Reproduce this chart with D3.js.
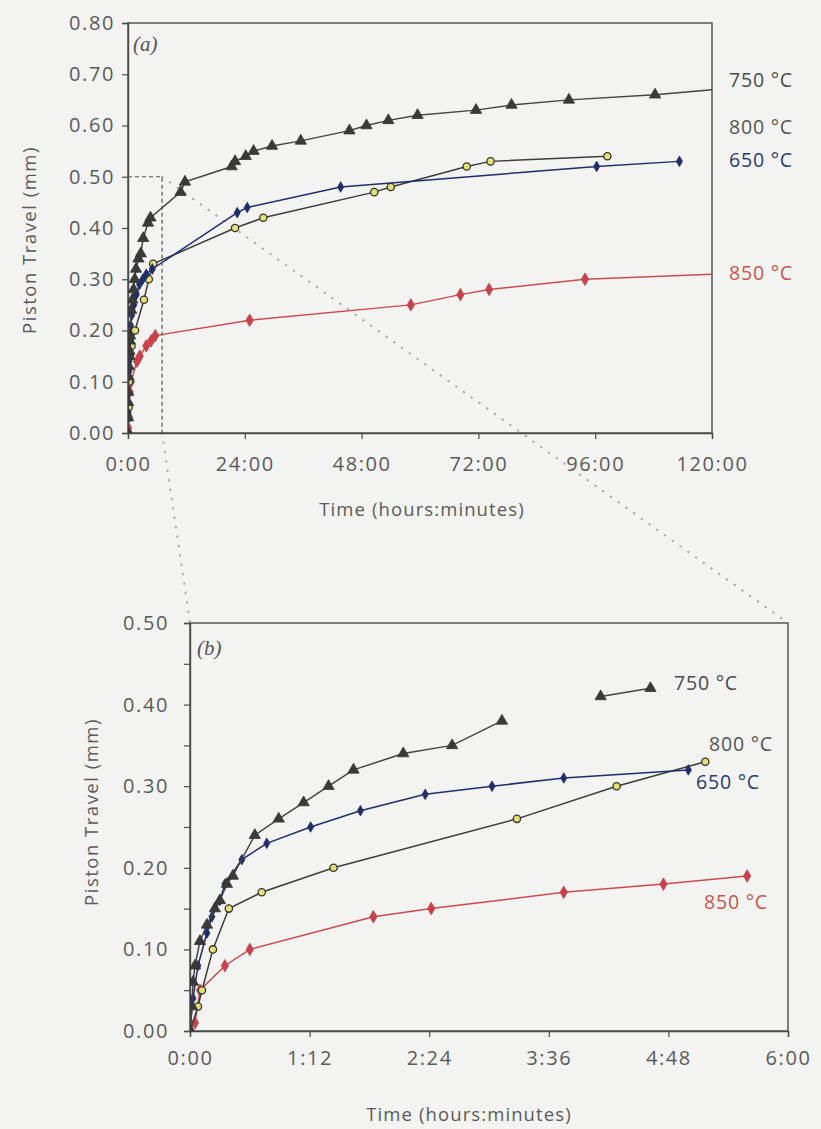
<!DOCTYPE html>
<html>
<head>
<meta charset="utf-8">
<script src="https://cdn.jsdelivr.net/npm/d3@7/dist/d3.min.js"></script>
<style>
  html, body { margin: 0; padding: 0; background: #f3f3f1; }
  svg { display: block; }
  text { font-family: "Open Sans", "Noto Sans", sans-serif; }
</style>
</head>
<body>
<svg id="chart" width="821" height="1129"></svg>
<script>
// Piston travel (mm) versus elapsed time (hours) for each test temperature.
const s650 = [[0,0],[0.03,0.04],[0.08,0.08],[0.17,0.12],[0.22,0.14],[0.3,0.16],[0.35,0.18],
  [0.52,0.21],[0.77,0.23],[1.21,0.25],[1.71,0.27],[2.36,0.29],[3.03,0.30],[3.75,0.31],[5.0,0.32],
  [22.45,0.43],[24.5,0.44],[43.7,0.48],[96.3,0.52],[113.3,0.53]];
const s750 = [[0,0],[0.02,0.03],[0.03,0.06],[0.05,0.08],[0.1,0.11],[0.17,0.13],[0.25,0.15],[0.3,0.16],
  [0.37,0.18],[0.43,0.19],[0.65,0.24],[0.89,0.26],[1.14,0.28],[1.39,0.30],[1.64,0.32],[2.14,0.34],
  [2.63,0.35],[3.13,0.38],[4.12,0.41],[4.62,0.42],[10.8,0.47],[11.7,0.49],[21.3,0.52],[22.0,0.53],
  [24.2,0.54],[25.8,0.55],[29.6,0.56],[35.5,0.57],[45.5,0.59],[49.0,0.60],[53.5,0.61],[59.5,0.62],
  [71.5,0.63],[78.8,0.64],[90.6,0.65],[108.3,0.66]];
const s800 = [[0,0],[0.08,0.03],[0.12,0.05],[0.23,0.10],[0.39,0.15],[0.72,0.17],[1.44,0.20],
  [3.28,0.26],[4.28,0.30],[5.17,0.33],[22.0,0.40],[27.8,0.42],[50.6,0.47],[54.0,0.48],
  [69.6,0.52],[74.5,0.53],[98.5,0.54]];
const s850 = [[0,0],[0.05,0.01],[0.1,0.05],[0.35,0.08],[0.6,0.10],[1.84,0.14],[2.42,0.15],
  [3.75,0.17],[4.75,0.18],[5.59,0.19],[25.0,0.22],[58.1,0.25],[68.3,0.27],[74.2,0.28],[93.9,0.30]];
// Curve continuations to the right-hand frame of the full-range panel (no marker).
const tail750 = [[120,0.67]];
const tail850 = [[120,0.31]];
// Panel (b) leaves the 750 °C curve open between these readings.
const gap750 = [3.13, 4.12];

const seriesNames = ["850 °C","800 °C","650 °C","750 °C"];
const ticksTimeA = [0,24,48,72,96,120];
const ticksTimeB = [0,1.2,2.4,3.6,4.8,6];
const ticksTravelA = [0,0.1,0.2,0.3,0.4,0.5,0.6,0.7,0.8];
const ticksTravelB = [0,0.1,0.2,0.3,0.4,0.5];
const minorTravelB = [0.05,0.15,0.25,0.35,0.45];
const zoomWindow = [7, 0.5];   // extent of panel (b) outlined inside panel (a)

const fmtTime = h => {
  const m = Math.round(h * 60);
  return Math.floor(m / 60) + ":" + String(m % 60).padStart(2, "0");
};

const style = {
  "650 °C": {data: s650, tail: [], line: "#1f2d6b", fill: "#1f2d6b", stroke: "#1f2d6b", sym: d3.symbolDiamond, size: 32, label: "#2b3a6c"},
  "750 °C": {data: s750, tail: tail750, line: "#444", fill: "#3a3a3a", stroke: "#333", sym: d3.symbolTriangle, size: 55, label: "#4a4a4a"},
  "800 °C": {data: s800, tail: [], line: "#3c3c3c", fill: "#e6df72", stroke: "#333", sym: d3.symbolCircle, size: 42, label: "#555"},
  "850 °C": {data: s850, tail: tail850, line: "#cc4a4e", fill: "#c8404a", stroke: "#c8404a", sym: d3.symbolDiamond, size: 45, label: "#c9534f"}
};

const svg = d3.select("#chart");
const axisColor = "#4a4a4a";
const textColor = "#5a5a5a";

function panel(opts) {
  const {x, y, xTicks, yTicks, yMinor, tag, tagPos, xTitle, yTitle, labels, tMax, breakAt, useTails, padX, padY} = opts;
  const g = svg.append("g");
  const [x0, x1] = x.range();
  const [y0, y1] = y.range();

  // frame
  g.append("rect").attr("x", x0).attr("y", y1).attr("width", x1 - x0).attr("height", y0 - y1)
    .attr("fill", "none").attr("stroke", axisColor).attr("stroke-width", 1.4);

  // axes
  const ax = g.append("g").attr("transform", `translate(0,${y0})`)
    .call(d3.axisBottom(x).tickValues(xTicks).tickFormat(fmtTime).tickSize(6).tickPadding(padX));
  const ay = g.append("g").attr("transform", `translate(${x0},0)`)
    .call(d3.axisLeft(y).tickValues(yTicks).tickFormat(d3.format(".2f")).tickSize(6).tickPadding(padY));
  if (yMinor) {
    g.append("g").attr("transform", `translate(${x0},0)`)
      .call(d3.axisLeft(y).tickValues(yMinor).tickFormat("").tickSize(6))
      .call(s => s.select(".domain").remove())
      .selectAll("line").attr("stroke", axisColor).attr("stroke-width", 1.2);
  }
  [ax, ay].forEach(a => {
    a.select(".domain").attr("stroke", axisColor).attr("stroke-width", 1.4);
    a.selectAll(".tick line").attr("stroke", axisColor).attr("stroke-width", 1.2);
    a.selectAll(".tick text").attr("fill", textColor).style("font-size", "20px")
      .style("letter-spacing", "1.6px").style("font-family", "\"Open Sans\", sans-serif");
  });

  // clip for the plotted curves
  const clipId = "clip-" + tag.replace(/\W/g, "");
  svg.append("clipPath").attr("id", clipId).append("rect")
    .attr("x", x0).attr("y", y1).attr("width", x1 - x0).attr("height", y0 - y1);

  const line = d3.line().x(d => x(d[0])).y(d => y(d[1]));
  const plot = g.append("g").attr("clip-path", `url(#${clipId})`);

  seriesNames.forEach(name => {
    const st = style[name];
    const pts = st.data.filter(d => d[0] <= tMax);
    let segments = [pts.concat(useTails ? st.tail : [])];
    if (breakAt && name === "750 °C") {
      segments = [pts.filter(d => d[0] <= breakAt[0]), pts.filter(d => d[0] >= breakAt[1])];
    }
    segments.forEach(seg => {
      plot.append("path").attr("d", line(seg)).attr("fill", "none")
        .attr("stroke", st.line).attr("stroke-width", 1.5);
    });
    plot.selectAll(null).data(pts).join("path")
      .attr("transform", d => `translate(${x(d[0])},${y(d[1])})`)
      .attr("d", d3.symbol().type(st.sym).size(st.size))
      .attr("fill", st.fill).attr("stroke", st.stroke)
      .attr("stroke-width", name === "800 °C" ? 1.3 : 0.8);
  });

  // panel tag
  g.append("text").attr("x", tagPos[0]).attr("y", tagPos[1])
    .attr("fill", "#555").style("font-family", "\"Liberation Serif\", serif")
    .style("font-style", "italic").style("font-size", "21px").text(tag);

  // axis titles
  g.append("text").attr("x", xTitle[0]).attr("y", xTitle[1]).attr("text-anchor", "middle")
    .attr("fill", textColor).style("font-size", "18.5px").style("letter-spacing", "1.1px")
    .text("Time (hours:minutes)");
  g.append("text").attr("transform", `translate(${yTitle[0]},${yTitle[1]}) rotate(-90)`)
    .attr("text-anchor", "middle").attr("fill", textColor).style("font-size", "18.5px")
    .style("letter-spacing", "1.5px").text("Piston Travel (mm)");

  // temperature labels
  labels.forEach(([name, lx, ly]) => {
    g.append("text").attr("x", lx).attr("y", ly).attr("dy", "0.35em")
      .attr("fill", style[name].label).style("font-size", "19.5px")
      .style("letter-spacing", "0.8px").text(name);
  });
  return g;
}

const xA = d3.scaleLinear([0, 120], [128, 712]);
const yA = d3.scaleLinear([0, 0.8], [433, 23]);
const xB = d3.scaleLinear([0, 6], [190, 788]);
const yB = d3.scaleLinear([0, 0.5], [1031, 623]);

// zoom connector lines, drawn beneath both panels
const conn = svg.append("g").attr("stroke", "#a5a5a5").attr("stroke-width", 2)
  .attr("stroke-linecap", "round").attr("stroke-dasharray", "0.5,9").attr("fill", "none");
conn.append("line").attr("x1", xA(zoomWindow[0])).attr("y1", yA(0))
  .attr("x2", xB.range()[0]).attr("y2", yB(0.5));
conn.append("line").attr("x1", xA(zoomWindow[0])).attr("y1", yA(zoomWindow[1]))
  .attr("x2", xB.range()[1]).attr("y2", yB(0.5));

panel({
  x: xA, y: yA, xTicks: ticksTimeA, yTicks: ticksTravelA, tag: "(a)", tagPos: [133, 51],
  xTitle: [422, 516], yTitle: [36, 240], tMax: 120, useTails: true, padX: 18, padY: 7,
  labels: [["750 °C", 729, 80], ["800 °C", 729, 127], ["650 °C", 729, 160], ["850 °C", 729, 273]]
});

// dashed outline of the region enlarged in panel (b)
svg.append("path")
  .attr("d", d3.line()([[xA(0), yA(zoomWindow[1])], [xA(zoomWindow[0]), yA(zoomWindow[1])], [xA(zoomWindow[0]), yA(0)]]))
  .attr("fill", "none").attr("stroke", "#555").attr("stroke-width", 1.2).attr("stroke-dasharray", "4,3");

panel({
  x: xB, y: yB, xTicks: ticksTimeB, yTicks: ticksTravelB, yMinor: minorTravelB, tag: "(b)", tagPos: [197, 655],
  xTitle: [469, 1121], yTitle: [98, 812], tMax: 6, breakAt: gap750, useTails: false, padX: 14, padY: 15,
  labels: [["750 °C", 674, 683], ["800 °C", 709, 744], ["650 °C", 696, 782], ["850 °C", 704, 902]]
});
</script>
</body>
</html>
